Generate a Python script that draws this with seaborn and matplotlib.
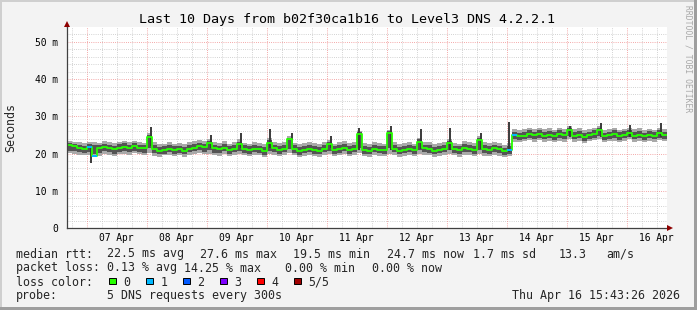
import numpy as np
import pandas as pd
import matplotlib
matplotlib.use("Agg")
import matplotlib.pyplot as plt
import matplotlib.dates as mdates
from matplotlib.patches import Rectangle
import seaborn as sns

# ---------------- data (ms), 2-hour bins starting 2026-04-06 16:00 ----------------
start = "2026-04-06 16:00"
med = [22.2,22.0,21.6,21.3,21.7,19.4,21.4,21.7,21.5,21.2,21.6,21.8,
       21.5,21.9,21.6,21.4,24.5,21.3,20.8,20.9,21.2,20.9,21.1,20.7,
       21.3,21.6,21.9,21.7,22.8,21.4,21.2,21.6,21.0,21.3,22.6,21.2,
       20.9,21.3,21.1,20.6,22.9,21.4,21.0,21.3,23.9,21.2,20.6,21.0,
       21.3,21.0,20.8,21.2,22.5,20.9,21.2,21.5,21.0,21.2,25.3,21.0,
       20.8,21.3,21.0,20.9,25.6,21.2,20.8,21.0,21.3,20.9,23.2,21.4,
       21.2,20.8,21.0,21.3,22.9,21.1,20.9,21.5,21.3,21.0,23.6,21.2,
       21.0,21.4,21.1,20.6,21.0,25.0,24.6,24.8,25.2,24.9,25.3,24.8,
       25.1,24.7,25.2,24.9,26.3,24.8,25.1,24.5,24.9,25.3,26.3,24.6,
       24.9,25.2,24.7,25.0,25.6,24.8,25.1,24.6,25.0,24.7,25.4,24.9]
loss = [0,0,0,0,1,1,0,0,0,0,0,0,
        0,0,0,0,0,0,0,0,0,0,0,0,
        0,0,0,0,0,0,0,0,0,0,0,0,
        0,0,0,0,0,0,0,0,0,0,0,0,
        0,0,0,0,0,0,0,0,0,0,0,0,
        0,0,0,0,0,0,0,0,0,0,0,0,
        0,0,0,0,0,0,0,0,0,0,0,0,
        0,0,0,0,1,1,0,0,0,0,0,0,
        0,0,0,0,0,0,0,0,0,0,0,0,
        0,0,0,0,0,0,0,0,0,0,0,0]
lo1 = [20.1,19.8,19.6,19.5,19.7,19.0,19.4,19.9,19.6,19.3,19.8,20.0,
       19.7,20.1,19.8,19.5,20.2,19.4,19.2,19.5,19.7,19.3,19.6,19.2,
       19.6,19.9,20.2,19.8,20.0,19.5,19.4,19.9,19.3,19.6,20.0,19.5,
       19.3,19.7,19.5,19.1,19.9,19.6,19.3,19.7,20.1,19.5,19.1,19.4,
       19.7,19.4,19.2,19.6,19.9,19.3,19.5,19.9,19.4,19.6,20.2,19.3,
       19.2,19.7,19.4,19.3,20.0,19.6,19.2,19.4,19.7,19.3,19.9,19.7,
       19.5,19.2,19.4,19.7,19.8,19.5,19.2,19.7,19.6,19.3,19.8,19.4,
       19.3,19.7,19.4,19.0,19.3,23.2,23.0,23.3,23.6,23.2,23.7,23.1,
       23.4,23.0,23.5,23.2,23.9,23.1,23.4,22.9,23.3,23.6,24.0,23.0,
       23.3,23.5,23.0,23.4,23.8,23.1,23.5,23.0,23.4,23.1,23.7,23.3]
hi1 = [23.4,23.2,23.0,22.8,23.1,23.0,22.9,23.3,23.0,22.8,23.2,23.5,
       23.0,23.5,23.1,22.9,25.4,23.0,22.6,22.7,23.0,22.6,22.9,22.6,
       23.1,23.4,23.6,23.3,23.9,23.0,22.8,23.3,22.7,23.1,23.8,22.9,
       22.7,23.1,22.9,22.5,24.1,23.2,22.8,23.1,24.8,22.9,22.5,22.8,
       23.1,22.8,22.6,23.0,23.7,22.7,23.0,23.4,22.8,23.0,26.1,22.8,
       22.6,23.1,22.8,22.7,26.4,23.0,22.6,22.8,23.1,22.7,24.3,23.2,
       23.0,22.6,22.8,23.1,24.0,22.9,22.7,23.3,23.1,22.8,24.6,23.0,
       22.8,23.2,22.9,22.4,22.8,26.6,26.3,26.5,26.9,26.6,27.0,26.5,
       26.8,26.4,26.9,26.6,27.3,26.5,26.8,26.2,26.6,27.0,27.4,26.3,
       26.6,26.9,26.4,26.7,26.9,26.5,26.8,26.3,26.7,26.4,26.8,26.6]
lo2 = [20.8,20.6,20.3,20.1,20.4,19.8,20.2,20.6,20.4,20.0,20.5,20.7,
       20.4,20.8,20.5,20.2,21.4,20.1,19.8,20.0,20.3,20.0,20.2,19.8,
       20.3,20.6,20.9,20.5,20.9,20.2,20.1,20.6,19.9,20.3,20.8,20.1,
       19.9,20.4,20.2,19.7,20.8,20.3,20.0,20.4,21.2,20.2,19.7,20.1,
       20.4,20.0,19.8,20.3,20.8,19.9,20.2,20.6,20.0,20.3,21.5,19.9,
       19.8,20.4,20.1,19.9,21.6,20.3,19.8,20.1,20.4,19.9,20.9,20.5,
       20.2,19.8,20.1,20.4,20.9,20.2,19.9,20.5,20.3,20.0,21.0,20.1,
       20.0,20.4,20.1,19.6,20.0,23.9,23.6,23.9,24.2,23.9,24.3,23.8,
       24.1,23.7,24.2,23.9,24.6,23.8,24.1,23.5,23.9,24.3,24.6,23.7,
       24.0,24.2,23.7,24.1,24.4,23.8,24.2,23.7,24.1,23.8,24.3,24.0]
hi2 = [22.9,22.7,22.4,22.1,22.5,22.2,22.2,22.6,22.3,22.1,22.5,22.8,
       22.3,22.8,22.4,22.2,25.0,22.3,21.8,21.9,22.2,21.9,22.1,21.8,
       22.4,22.6,22.9,22.6,23.4,22.3,22.1,22.6,21.9,22.3,23.2,22.2,
       21.9,22.4,22.1,21.7,23.6,22.4,22.0,22.4,24.3,22.2,21.7,22.0,
       22.4,22.0,21.8,22.2,23.1,21.9,22.2,22.6,22.0,22.2,25.7,21.9,
       21.8,22.3,22.0,21.9,26.0,22.2,21.8,22.0,22.3,21.9,23.8,22.4,
       22.2,21.8,22.0,22.3,23.5,22.1,21.9,22.5,22.3,22.0,24.1,22.2,
       22.0,22.4,22.1,21.6,22.0,25.9,25.5,25.8,26.2,25.9,26.3,25.7,
       26.1,25.7,26.2,25.9,26.8,25.8,26.1,25.4,25.9,26.3,26.9,25.6,
       25.9,26.2,25.7,26.0,26.4,25.8,26.1,25.6,26.0,25.7,26.3,25.9]

spike_t = ["2026-04-07 01:43", "2026-04-08 01:36", "2026-04-09 01:36", "2026-04-09 13:36",
           "2026-04-10 01:19", "2026-04-10 10:00", "2026-04-11 01:36", "2026-04-11 13:02",
           "2026-04-12 01:36", "2026-04-12 13:43", "2026-04-13 01:19", "2026-04-13 13:36",
           "2026-04-14 01:02", "2026-04-15 01:19", "2026-04-15 13:36", "2026-04-16 01:19",
           "2026-04-16 13:36"]
spike_lo = [17.5, 22.0, 21.5, 21.5, 21.5, 21.5, 21.5, 21.0, 21.0, 21.2, 21.0, 21.2,
            20.5, 24.5, 24.5, 24.5, 24.5]
spike_hi = [21.5, 27.2, 25.0, 25.4, 26.5, 25.4, 24.7, 26.8, 27.4, 26.7, 27.0, 25.5,
            28.6, 27.4, 28.3, 27.7, 28.3]

y_ticks = [0, 10, 20, 30, 40, 50]
y_tick_labels = ["0", "10 m", "20 m", "30 m", "40 m", "50 m"]

title = "Last 10 Days from b02f30ca1b16 to Level3 DNS 4.2.2.1"
loss_labels = ["0", "1", "2", "3", "4", "5/5"]
loss_colors = ["#26ff00", "#00b8ff", "#0059ff", "#7e00ff", "#ff0000", "#a00000"]
row1 = [(16, "median rtt:"), (107.3, "22.5 ms avg"), (200, "27.6 ms max"), (293.3, "19.5 ms min"),
        (386.7, "24.7 ms now"), (473.3, "1.7 ms sd"), (559, "13.3"), (606.7, "am/s")]
row2 = [(16, "packet loss:"), (107.3, "0.13 % avg"), (184.3, "14.25 % max"),
        (285, "0.00 % min"), (371.7, "0.00 % now")]
row4 = [(16, "probe:"), (107.3, "5 DNS requests every 300s")]
stamp = "Thu Apr 16 15:43:26 2026"

# ---------------- figure ----------------
W, H = 697, 310
sns.set_style("white")
plt.rcParams["font.family"] = ["DejaVu Sans Mono"]

fig = plt.figure(figsize=(W / 100, H / 100), dpi=100, facecolor="#f3f3f3")
ax = fig.add_axes([67 / W, 1 - 228 / H, 600 / W, 201 / H])
ax.set_facecolor("white")

times = pd.date_range(start, periods=len(med), freq="2h")
df = pd.DataFrame({"t": times, "med": med, "loss": loss,
                   "lo1": lo1, "hi1": hi1, "lo2": lo2, "hi2": hi2})
step = pd.Timedelta("2h")
t_ext = times.append(pd.DatetimeIndex([times[-1] + step]))
ext = lambda col: np.append(df[col].values, df[col].values[-1])

x0_ts = pd.Timestamp("2026-04-06 16:07")
x1_ts = pd.Timestamp("2026-04-16 16:07")

# grid (drawn first, behind data)
dot = (0, (1, 1.6))
for t in pd.date_range(x0_ts.ceil("6h"), x1_ts, freq="6h"):
    if t.hour == 0:
        ax.axvline(t, color="#f08c8c", lw=0.6, ls=dot, zorder=0.5)
    else:
        ax.axvline(t, color="#c4c4c4", lw=0.6, ls=dot, zorder=0)
for y in range(2, 54, 2):
    if y % 10:
        ax.axhline(y, color="#c4c4c4", lw=0.6, ls=dot, zorder=0)
for y in y_ticks[1:]:
    ax.axhline(y, color="#f08c8c", lw=0.6, ls=dot, zorder=0.5)

# smoke
ax.fill_between(t_ext, ext("lo1"), ext("hi1"), step="post", color="#a9a9a9", lw=0, zorder=2)
ax.fill_between(t_ext, ext("lo2"), ext("hi2"), step="post", color="#545454", lw=0, zorder=3)
ax.vlines(pd.to_datetime(spike_t), spike_lo, spike_hi, color="#3a3a3a", lw=1.4, zorder=3.5)

# median line
sns.lineplot(x=t_ext, y=ext("med"), drawstyle="steps-post", color=loss_colors[0],
             lw=1.3, ax=ax, zorder=4)
lossy = df[df["loss"] > 0]
ax.hlines(lossy["med"], lossy["t"], lossy["t"] + step,
          colors=[loss_colors[k] for k in lossy["loss"]], lw=1.4, zorder=5)

ax.set_xlim(x0_ts, x1_ts)
ax.set_ylim(0, 54)
ax.set_xlabel("")
ax.set_ylabel("")

ax.xaxis.set_major_locator(mdates.HourLocator(byhour=12))
ax.xaxis.set_major_formatter(mdates.DateFormatter("%d %b"))
ax.xaxis.set_minor_locator(mdates.HourLocator(byhour=[0, 6, 18]))
ax.set_yticks(y_ticks)
ax.set_yticklabels(y_tick_labels)
ax.set_yticks(range(2, 54, 2), minor=True)
ax.tick_params(axis="x", which="major", length=0, pad=3.6, labelsize=6.9, colors="black")
ax.tick_params(axis="x", which="minor", length=0)
ax.tick_params(axis="y", which="major", length=2.5, width=0.8, color="#404040",
               pad=4.2, labelsize=6.9, labelcolor="black")
ax.tick_params(axis="y", which="minor", length=1.5, width=0.6, color="#808080")

for s in ["top", "right"]:
    ax.spines[s].set_visible(False)
for s in ["left", "bottom"]:
    ax.spines[s].set_color("#404040")
    ax.spines[s].set_linewidth(0.9)
    ax.spines[s].set_zorder(6)

# arrows
ax.plot([0], [1 + 2.8 / 201], marker="^", ms=4.6, color="#8e0000", mew=0,
        transform=ax.transAxes, clip_on=False, zorder=7)
ax.plot([0, 0], [1, 1 + 2.8 / 201], color="#404040", lw=0.9, transform=ax.transAxes, clip_on=False)
ax.plot([1 + 3.0 / 600], [0], marker=">", ms=4.6, color="#8e0000", mew=0,
        transform=ax.transAxes, clip_on=False, zorder=7)
ax.plot([1, 1 + 3.0 / 600], [0, 0], color="#404040", lw=0.9, transform=ax.transAxes, clip_on=False)

# texts
fx = lambda px: px / W
fy = lambda py: 1 - py / H
fig.text(fx(347), fy(19), title, ha="center", va="center", size=9.6, color="black")
fig.text(fx(10.5), fy(127), "Seconds", rotation=90, ha="center", va="center", size=8.4)
fig.text(fx(688), fy(59), "RRDTOOL / TOBI OETIKER", rotation=-90, ha="center", va="center",
         size=5.8, color="#a8a8a8")

LS = 8.4
for x, s in row1:
    fig.text(fx(x), fy(254), s, ha="left", va="center", size=LS)
for x, s in row2:
    fig.text(fx(x), fy(268), s, ha="left", va="center", size=LS)
fig.text(fx(16), fy(282), "loss color:", ha="left", va="center", size=LS)
for i, (lab, col) in enumerate(zip(loss_labels, loss_colors)):
    x0 = 108.7 + 37 * i
    fig.add_artist(Rectangle((fx(x0), fy(284.3)), 6.8 / W, 6.8 / H, transform=fig.transFigure,
                             facecolor=col, edgecolor="black", lw=0.7))
    fig.text(fx(x0 + 14.6), fy(282), lab, ha="left", va="center", size=LS)
for x, s in row4:
    fig.text(fx(x), fy(296), s, ha="left", va="center", size=LS)
fig.text(fx(680), fy(296), stamp, ha="right", va="center", size=LS)

# bevelled frame
fig.add_artist(Rectangle((0, 0), 1, 3 / H, transform=fig.transFigure, color="#9e9e9e", lw=0))
fig.add_artist(Rectangle((1 - 3 / W, 0), 3 / W, 1, transform=fig.transFigure, color="#9e9e9e", lw=0))
fig.add_artist(Rectangle((0, 3 / H), 2 / W, 1, transform=fig.transFigure, color="#cfcfcf", lw=0))
fig.add_artist(Rectangle((0, 1 - 2 / H), 1 - 3 / W, 2 / H, transform=fig.transFigure, color="#cfcfcf", lw=0))

fig.savefig("out.png", dpi=100, facecolor=fig.get_facecolor())
